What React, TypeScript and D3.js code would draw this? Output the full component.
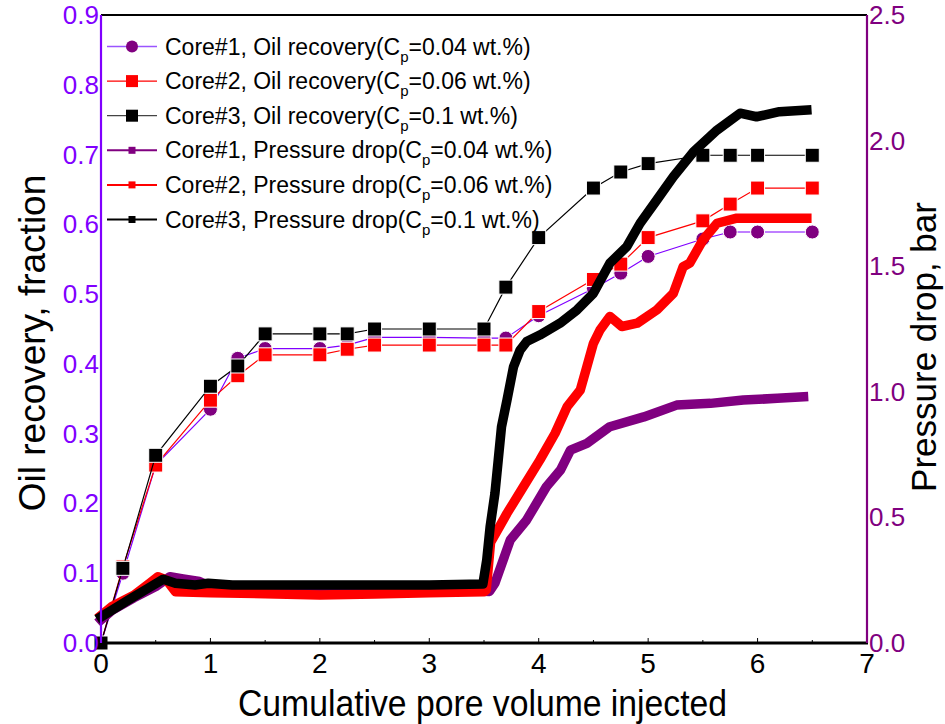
import React from "react";
import * as d3 from "d3";

// Oil recovery (left axis)
const pvOil = [0, 0.2, 0.5, 1.0, 1.25, 1.5, 2.0, 2.25, 2.5, 3.0, 3.5, 3.7, 4.0, 4.5, 4.75, 5.0, 5.5, 5.75, 6.0, 6.5];
const oilCore1 = [0, 0.100, 0.255, 0.335, 0.408, 0.422, 0.422, 0.427, 0.438, 0.438, 0.437, 0.437, 0.469, 0.508, 0.530, 0.554, 0.579, 0.589, 0.589, 0.589];
const oilCore2 = [0, 0.109, 0.255, 0.348, 0.383, 0.413, 0.413, 0.421, 0.427, 0.427, 0.427, 0.427, 0.475, 0.521, 0.543, 0.581, 0.605, 0.629, 0.652, 0.652];
const oilCore3 = [0, 0.107, 0.269, 0.368, 0.397, 0.443, 0.443, 0.443, 0.450, 0.450, 0.450, 0.510, 0.581, 0.652, 0.675, 0.687, 0.699, 0.699, 0.699, 0.699];

// Pressure drop (right axis)
const pvP1 = [0.0, 0.1, 0.3, 0.5, 0.63, 0.75, 0.9, 1.0, 1.5, 2.0, 2.5, 3.0, 3.55, 3.6, 3.74, 3.89, 4.07, 4.2, 4.29, 4.44, 4.65, 4.96, 5.26, 5.57, 5.87, 6.18, 6.42];
const pCore1 = [0.092, 0.13, 0.18, 0.225, 0.264, 0.255, 0.245, 0.225, 0.218, 0.215, 0.215, 0.215, 0.205, 0.238, 0.41, 0.49, 0.622, 0.689, 0.768, 0.795, 0.861, 0.90, 0.947, 0.954, 0.967, 0.974, 0.980];
const pvP2 = [0.0, 0.1, 0.3, 0.45, 0.52, 0.6, 0.68, 1.0, 1.5, 2.0, 2.5, 3.0, 3.5, 3.52, 3.56, 3.71, 3.86, 4.01, 4.15, 4.26, 4.38, 4.44, 4.5, 4.56, 4.65, 4.76, 4.9, 5.08, 5.23, 5.32, 5.38, 5.5, 5.63, 5.81, 6.45];
const pCore2 = [0.11, 0.145, 0.19, 0.24, 0.264, 0.25, 0.204, 0.200, 0.196, 0.191, 0.195, 0.200, 0.204, 0.211, 0.40, 0.516, 0.622, 0.728, 0.835, 0.941, 1.007, 1.10, 1.193, 1.246, 1.30, 1.26, 1.273, 1.326, 1.392, 1.498, 1.512, 1.604, 1.671, 1.691, 1.691];
const pvP3 = [0.0, 0.25, 0.43, 0.57, 0.68, 0.86, 0.98, 1.2, 2.0, 3.0, 3.49, 3.525, 3.556, 3.6, 3.63, 3.66, 3.71, 3.77, 3.83, 3.89, 4.01, 4.195, 4.35, 4.5, 4.65, 4.805, 4.927, 5.08, 5.23, 5.415, 5.63, 5.84, 5.99, 6.2, 6.45];
const pCore3 = [0.104, 0.171, 0.218, 0.254, 0.238, 0.231, 0.238, 0.231, 0.231, 0.231, 0.235, 0.33, 0.463, 0.596, 0.728, 0.861, 0.967, 1.10, 1.166, 1.2, 1.226, 1.273, 1.326, 1.392, 1.512, 1.578, 1.671, 1.764, 1.856, 1.956, 2.042, 2.109, 2.095, 2.115, 2.122];

const xTicks = [0, 1, 2, 3, 4, 5, 6, 7];
const leftTicks = [0, 0.1, 0.2, 0.3, 0.4, 0.5, 0.6, 0.7, 0.8, 0.9];
const rightTicks = [0, 0.5, 1.0, 1.5, 2.0, 2.5];
const legendCores = ["Core#1", "Core#2", "Core#3"];
const legendConc = ["0.04", "0.06", "0.1"];

const FONT = "'Liberation Sans', Arial, Helvetica, sans-serif";
const VIOLET = "#8000ff";
const PURPLE = "#800080";

export default function App() {
  const L = 101, R = 867, T = 15, B = 643;
  const x = d3.scaleLinear().domain([0, 7]).range([L, R]);
  const yO = d3.scaleLinear().domain([0, 0.9]).range([B, T]);
  const yP = d3.scaleLinear().domain([0, 2.5]).range([B, T]);

  const lineO = d3.line<[number, number]>().x((d) => x(d[0])).y((d) => yO(d[1]));
  const lineP = d3.line<[number, number]>().x((d) => x(d[0])).y((d) => yP(d[1]));

  const oilSeries = [
    { vals: oilCore1, line: VIOLET, fill: PURPLE, shape: "circle" },
    { vals: oilCore2, line: "#ff0000", fill: "#ff0000", shape: "square" },
    { vals: oilCore3, line: "#000000", fill: "#000000", shape: "square" },
  ];
  const pSeries = [
    { xs: pvP1, ys: pCore1, color: PURPLE },
    { xs: pvP2, ys: pCore2, color: "#ff0000" },
    { xs: pvP3, ys: pCore3, color: "#000000" },
  ];

  const legendRows = [
    { label: `${legendCores[0]}, Oil recovery(C`, conc: legendConc[0], line: "#9a55ff", fill: PURPLE, shape: "circle", lw: 1.5, ms: 12 },
    { label: `${legendCores[1]}, Oil recovery(C`, conc: legendConc[1], line: "#ff0000", fill: "#ff0000", shape: "square", lw: 1.2, ms: 12 },
    { label: `${legendCores[2]}, Oil recovery(C`, conc: legendConc[2], line: "#444", fill: "#000", shape: "square", lw: 1.2, ms: 12 },
    { label: `${legendCores[0]}, Pressure drop(C`, conc: legendConc[0], line: PURPLE, fill: PURPLE, shape: "square", lw: 2, ms: 7 },
    { label: `${legendCores[1]}, Pressure drop(C`, conc: legendConc[1], line: "#ff0000", fill: "#ff0000", shape: "square", lw: 2, ms: 7 },
    { label: `${legendCores[2]}, Pressure drop(C`, conc: legendConc[2], line: "#000", fill: "#000", shape: "square", lw: 2, ms: 7 },
  ];

  return (
    <svg width={945} height={724} style={{ position: "absolute", left: 0, top: 0, background: "#fff" }} fontFamily={FONT}>
      <rect x={0} y={0} width={945} height={724} fill="#fff" />

      {/* oil recovery series */}
      {oilSeries.map((s, i) => {
        const pts = pvOil.map((p, j) => [p, s.vals[j]] as [number, number]);
        return (
          <g key={"o" + i}>
            <path d={lineO(pts) || ""} fill="none" stroke={s.line} strokeWidth={1.2} />
            {pts.map((d, j) =>
              s.shape === "circle" ? (
                <circle key={j} cx={x(d[0])} cy={yO(d[1])} r={7} fill={s.fill} stroke="#fff" strokeWidth={1} />
              ) : (
                <rect key={j} x={x(d[0]) - 7} y={yO(d[1]) - 7} width={14} height={14} fill={s.fill} stroke="#fff" strokeWidth={1} />
              )
            )}
          </g>
        );
      })}

      {/* pressure drop series */}
      {pSeries.map((s, i) => {
        const pts = s.xs.map((p, j) => [p, s.ys[j]] as [number, number]);
        return (
          <path key={"p" + i} d={lineP(pts) || ""} fill="none" stroke={s.color} strokeWidth={9.5} strokeLinejoin="round" strokeLinecap="square" />
        );
      })}

      {/* axes */}
      <line x1={L} x2={R} y1={T} y2={T} stroke="#000" strokeWidth={2} />
      <line x1={L - 1} x2={R + 1} y1={B} y2={B} stroke="#000" strokeWidth={3} />
      {d3.range(0, 7.01, 0.5).map((v) => (
        <line key={"xt" + v} x1={x(v)} x2={x(v)} y1={B} y2={B - (Number.isInteger(v) ? 5 : 3)} stroke="#000" strokeWidth={1} />
      ))}
      <line x1={L} x2={L} y1={T} y2={B} stroke={VIOLET} strokeWidth={2.2} />
      <line x1={R} x2={R} y1={T} y2={B} stroke={PURPLE} strokeWidth={2.2} />

      {/* x tick labels */}
      {xTicks.map((v) => (
        <text key={"xl" + v} x={x(v)} y={673} textAnchor="middle" fontSize={28} fill="#000">
          {v}
        </text>
      ))}
      {/* left tick labels */}
      {leftTicks.map((v) => (
        <text key={"ll" + v} x={L - 2} y={yO(v) + 9} textAnchor="end" fontSize={26} fill={VIOLET}>
          {v.toFixed(1)}
        </text>
      ))}
      {/* right tick labels */}
      {rightTicks.map((v) => (
        <text key={"rl" + v} x={R + 2} y={yP(v) + 9} textAnchor="start" fontSize={26} fill={PURPLE}>
          {v.toFixed(1)}
        </text>
      ))}

      {/* axis titles */}
      <text x={238} y={716} fontSize={36} textLength={489} lengthAdjust="spacingAndGlyphs" fill="#000">
        Cumulative pore volume injected
      </text>
      <text transform="translate(45,343) rotate(-90)" textAnchor="middle" fontSize={37} fill="#000">
        Oil recovery, fraction
      </text>
      <text transform="translate(936,347) rotate(-90)" textAnchor="middle" fontSize={35} fill="#000">
        Pressure drop, bar
      </text>

      {/* legend */}
      {legendRows.map((r, i) => {
        const cy = 46.5 + i * 34.6;
        return (
          <g key={"lg" + i}>
            <line x1={107} x2={157} y1={cy} y2={cy} stroke={r.line} strokeWidth={r.lw} />
            {r.shape === "circle" ? (
              <circle cx={132} cy={cy} r={r.ms / 2} fill={r.fill} />
            ) : (
              <rect x={132 - r.ms / 2} y={cy - r.ms / 2} width={r.ms} height={r.ms} fill={r.fill} />
            )}
            <text x={165} y={cy + 8} fontSize={23} fill="#000">
              {r.label}
              <tspan fontSize={15} dy={7}>p</tspan>
              <tspan dy={-7}>{`=${r.conc} wt.%)`}</tspan>
            </text>
          </g>
        );
      })}
    </svg>
  );
}
